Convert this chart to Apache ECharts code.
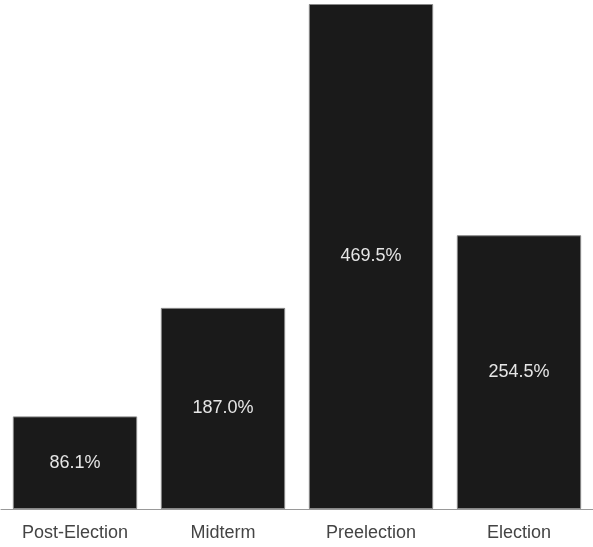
<!DOCTYPE html>
<html>
<head>
<meta charset="utf-8">
<script src="https://cdn.jsdelivr.net/npm/echarts@6/dist/echarts.min.js"></script>
<style>
  html, body { margin: 0; padding: 0; background: #fff; }
  #main { width: 593px; height: 547px; }
</style>
</head>
<body>
<div id="main"></div>
<script>
// cycle phases and their returns (%)
var phases = ["Post-Election", "Midterm", "Preelection", "Election"];
var returns = [86.1, 187.0, 469.5, 254.5];

var font = "'Liberation Sans', Arial, sans-serif";

var chart = echarts.init(document.getElementById("main"));

var option = {
  animation: false,
  grid: { left: 1, right: 0, top: 4, bottom: 38 },
  xAxis: {
    type: "category",
    data: phases,
    axisTick: { show: false },
    axisLine: { lineStyle: { color: "#999", width: 1 } },
    axisLabel: {
      color: "#444",
      fontFamily: font,
      fontSize: 18,
      margin: 15
    }
  },
  yAxis: {
    type: "value",
    min: 0,
    max: 469.5,
    show: false,
    splitLine: { show: false }
  },
  series: [{
    type: "bar",
    data: returns,
    barCategoryGap: "16%",
    itemStyle: { color: "#1a1a1a", borderColor: "#888", borderWidth: 1 },
    label: {
      show: true,
      position: "inside",
      color: "#e6e6e6",
      fontFamily: font,
      fontSize: 18,
      formatter: function (p) { return p.value.toFixed(1) + "%"; }
    }
  }]
};

chart.setOption(option);
</script>
</body>
</html>
